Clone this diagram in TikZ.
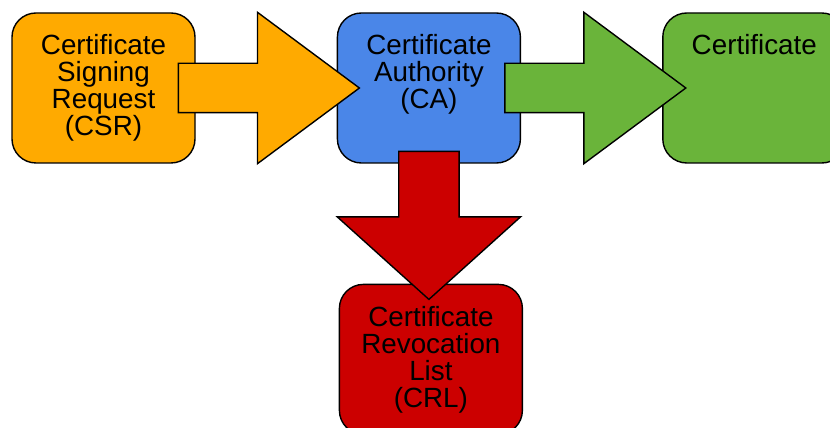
\documentclass[tikz,border=0pt]{standalone}
\usepackage{fontspec}
\setmainfont{Liberation Sans}
\usetikzlibrary{positioning,shapes.arrows,calc}

\definecolor{csrorange}{HTML}{FFAA00}
\definecolor{cablue}{HTML}{4A86E8}
\definecolor{certgreen}{HTML}{6AB43A}
\definecolor{crlred}{HTML}{CC0000}

\begin{document}
\begin{tikzpicture}[
box/.style={
  draw,
  rounded corners=12pt,
  line width=0.7pt,
  minimum width=91.5pt,
  minimum height=75pt,
  inner sep=0pt
  },
boxtext/.style={
  label={[anchor=north,yshift=-11pt,align=center,inner sep=0pt,
    font=\fontsize{13.9}{13.5}\selectfont]north:#1}
  },
bigarrow/.style={
  draw,
  single arrow,
  anchor=tail,
  line width=0.7pt,
  inner xsep=0pt,
  single arrow head indent=0pt
  },
sidearrow/.style={
  bigarrow,
  inner ysep=12pt,
  minimum height=90.5pt,
  single arrow head extend=25.5pt,
  single arrow tip angle=73.2
  },
downarrow/.style={
  bigarrow,
  rotate=-90,
  inner ysep=14.75pt,
  minimum height=74pt,
  single arrow head extend=30.75pt,
  single arrow tip angle=96
  }
]

\useasboundingbox (0,0) rectangle (415pt,214pt);
\clip (0,0) rectangle (415pt,214pt);

% the four boxes
\node[box,fill=csrorange,boxtext={Certificate\\Signing\\Request\\(CSR)}]
  (csr) at (51.75pt,170pt) {};
\node[box,fill=cablue,boxtext={Certificate\\Authority\\(CA)},
  right=70.5pt of csr] (ca) {};
\node[box,fill=certgreen,boxtext={Certificate},
  right=70.5pt of ca] (cert) {};
\node[box,fill=crlred,boxtext={Certificate\\Revocation\\List\\(CRL)},
  below=60pt of ca,xshift=1pt] (crl) {};

% block arrows on top, tails tucked into the boxes
\node[sidearrow,fill=csrorange]
  (csrarrow) at ([xshift=-9pt]csr.east) {};
\node[sidearrow,fill=certgreen]
  (certarrow) at ([xshift=-8.5pt]ca.east) {};
\node[downarrow,fill=crlred]
  (crlarrow) at ([yshift=6.5pt]ca.south) {};
\end{tikzpicture}
\end{document}
